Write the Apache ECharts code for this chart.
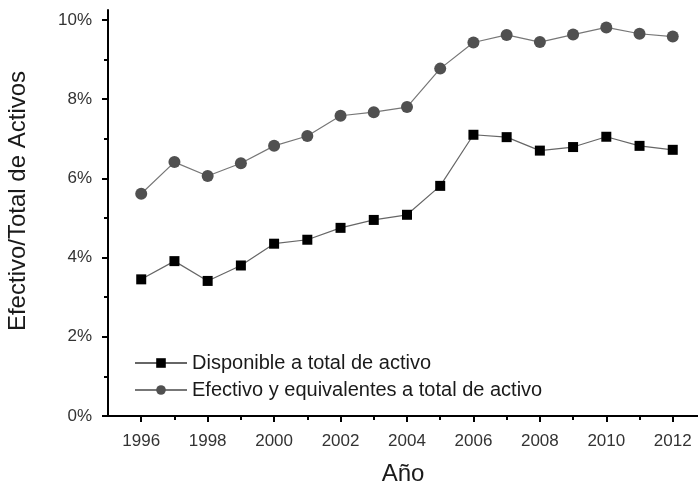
<!DOCTYPE html>
<html>
<head>
<meta charset="utf-8">
<script src="https://cdn.jsdelivr.net/npm/echarts@6/dist/echarts.min.js"></script>
<style>html,body{margin:0;padding:0;background:#fff}#c{width:698px;height:484px}</style>
</head>
<body>
<div id="c"></div>
<script>
var years = [1996,1997,1998,1999,2000,2001,2002,2003,2004,2005,2006,2007,2008,2009,2010,2011,2012];
var disponible = [3.45,3.91,3.41,3.80,4.35,4.45,4.75,4.95,5.08,5.81,7.10,7.04,6.70,6.79,7.05,6.82,6.72];
var efectivo = [5.61,6.41,6.06,6.38,6.82,7.07,7.58,7.67,7.80,8.77,9.43,9.62,9.44,9.63,9.81,9.65,9.58];
var xMajor = [1996,1998,2000,2002,2004,2006,2008,2010,2012];
var xMinor = [1997,1999,2001,2003,2005,2007,2009,2011];
var yMajor = [0,2,4,6,8,10];
var yMinor = [1,3,5,7,9];
var seriesNames = ['Disponible a total de activo','Efectivo y equivalentes a total de activo'];

var FONT = "'Liberation Sans', Arial, sans-serif";
function pairs(vals){ return years.map(function(y,i){ return [y, vals[i]]; }); }

var chart = echarts.init(document.getElementById('c'), null, {renderer:'canvas'});
var xRange = {min:1995, max:2012.76};
var yRange = {min:0, max:10.25};
chart.setOption({
  animation:false,
  backgroundColor:'#fff',
  grid:{left:108, right:0, top:10, bottom:68, containLabel:false, outerBoundsMode:'none'},
  legend:{
    orient:'vertical', left:134, top:353, itemWidth:52, itemHeight:12, itemGap:7, padding:0,
    textStyle:{fontFamily:FONT, fontSize:20, color:'#1a1a1a'},
    data:seriesNames
  },
  xAxis:[{
    type:'value', min:xRange.min, max:xRange.max,
    name:'Año', nameLocation:'middle', nameGap:46,
    nameTextStyle:{fontFamily:FONT, fontSize:24, color:'#1a1a1a'},
    axisLine:{show:true, lineStyle:{color:'#000', width:2}},
    axisTick:{show:true, inside:false, length:6, lineStyle:{color:'#000', width:2}, customValues:xMajor},
    axisLabel:{show:true, customValues:xMajor, fontFamily:FONT, fontSize:17, color:'#333', margin:17,
      formatter:function(v){ return String(v); }},
    splitLine:{show:false}
  },{
    type:'value', min:xRange.min, max:xRange.max, position:'bottom',
    axisLine:{show:false},
    axisTick:{show:true, length:4, lineStyle:{color:'#000', width:2}, customValues:xMinor},
    axisLabel:{show:false},
    splitLine:{show:false}
  }],
  yAxis:[{
    type:'value', min:yRange.min, max:yRange.max,
    name:'Efectivo/Total de Activos', nameLocation:'middle', nameGap:78,
    nameTextStyle:{fontFamily:FONT, fontSize:24, color:'#1a1a1a', padding:[0,0,0,24]},
    axisLine:{show:true, lineStyle:{color:'#000', width:2}},
    axisTick:{show:true, length:6, lineStyle:{color:'#000', width:2}, customValues:yMajor},
    axisLabel:{show:true, customValues:yMajor, fontFamily:FONT, fontSize:17, color:'#333', margin:16,
      formatter:function(v){ return v + '%'; }},
    splitLine:{show:false}
  },{
    type:'value', min:yRange.min, max:yRange.max, position:'left',
    axisLine:{show:false},
    axisTick:{show:true, length:4, lineStyle:{color:'#000', width:2}, customValues:yMinor},
    axisLabel:{show:false},
    splitLine:{show:false}
  }],
  series:[{
    name:seriesNames[0], type:'line', xAxisIndex:0, yAxisIndex:0,
    data:pairs(disponible),
    symbol:'rect', symbolSize:10,
    itemStyle:{color:'#000'},
    lineStyle:{color:'#666', width:1.2}
  },{
    name:seriesNames[1], type:'line', xAxisIndex:0, yAxisIndex:0,
    data:pairs(efectivo),
    symbol:'circle', symbolSize:12,
    itemStyle:{color:'#505050'},
    lineStyle:{color:'#777', width:1.2}
  }]
});
</script>
</body>
</html>
